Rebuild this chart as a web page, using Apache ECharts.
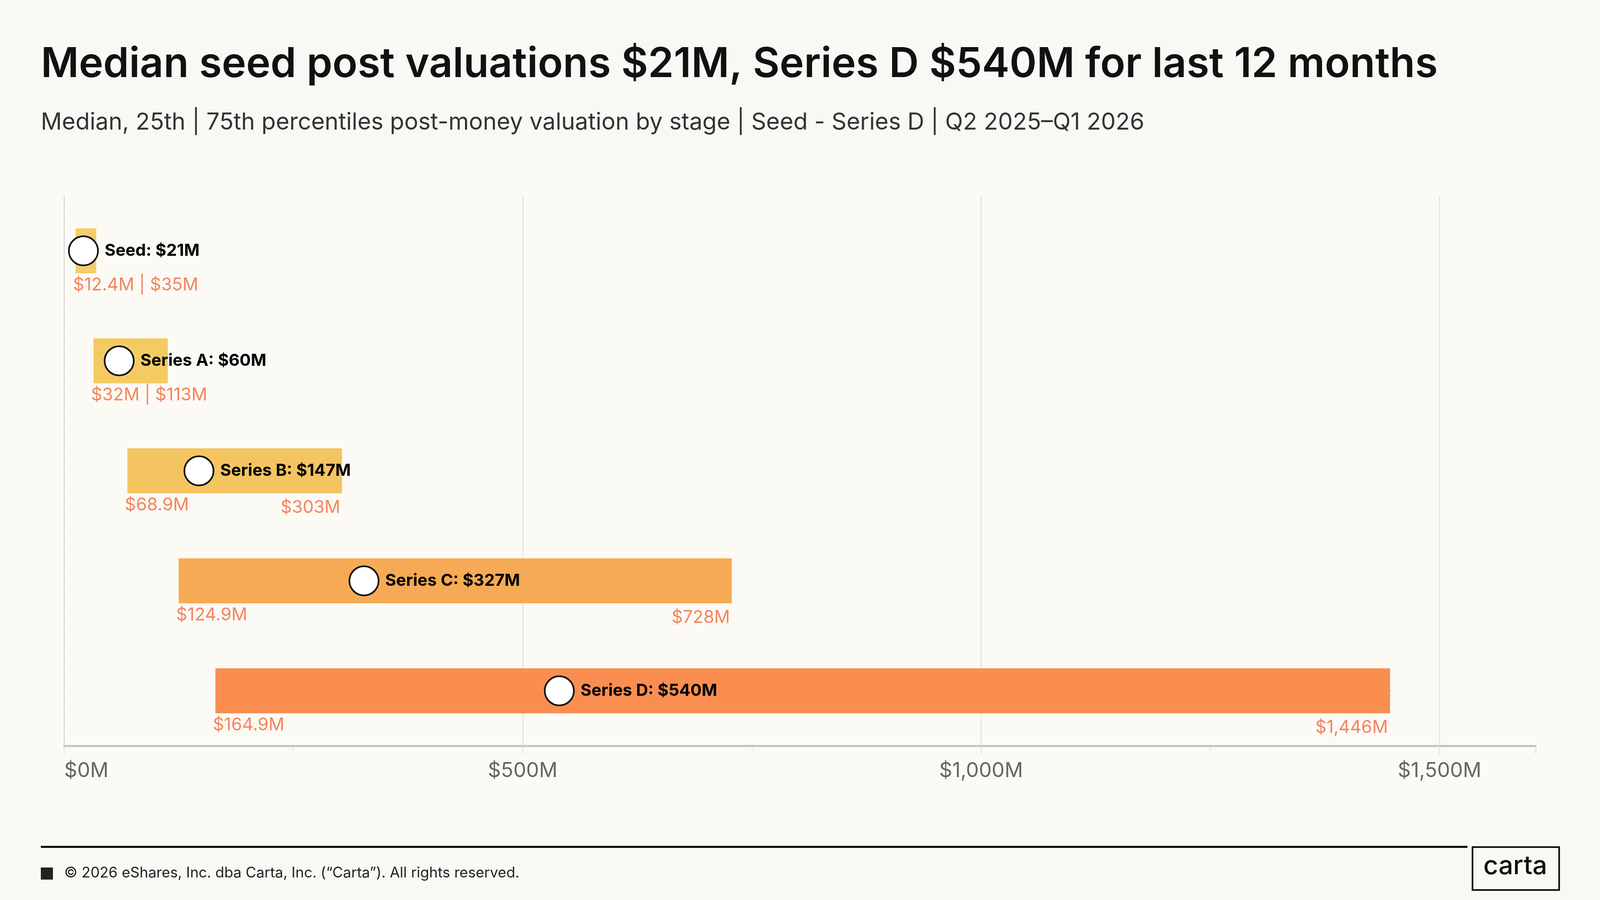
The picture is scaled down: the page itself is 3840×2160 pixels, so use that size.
<!DOCTYPE html>
<html lang="en">
  <head>
    <meta charset="UTF-8" />
    <title>Median post-money valuation by stage</title>
    <script src="https://cdn.jsdelivr.net/npm/echarts@6/dist/echarts.min.js"></script>
    <style>
      html, body { margin: 0; padding: 0; background: #f9f8f4; }
      #main { width: 3840px; height: 2160px; }
    </style>
  </head>
  <body>
    <div id="main"></div>
    <script>
      const stages = ['Seed', 'Series A', 'Series B', 'Series C', 'Series D'];
      const p25 = [12.4, 32, 68.9, 124.9, 164.9];
      const p75 = [35, 113, 303, 728, 1446];
      const median = [21, 60, 147, 327, 540];
      const barColors = ['#f3ce6a', '#f3cb62', '#f4c460', '#f7aa55', '#f98e50'];
      const lowLabels = ['$12.4M | $35M', '$32M | $113M', '$68.9M', '$124.9M', '$164.9M'];
      const highLabels = ['', '', '$303M', '$728M', '$1,446M'];
      const medianLabels = ['Seed: $21M', 'Series A: $60M', 'Series B: $147M', 'Series C: $327M', 'Series D: $540M'];
      const tickLabels = { 0: '$0M', 500: '$500M', 1000: '$1,000M', 1500: '$1,500M' };

      const font = 'Inter, "Noto Sans", sans-serif';
      const salmon = '#f4845f';

      const chart = echarts.init(document.getElementById('main'));

      chart.setOption({
        backgroundColor: '#f9f8f4',
        animation: false,
        textStyle: { fontFamily: font },
        graphic: [
          { type: 'rect', z: -10, shape: { x: 98, y: 436, width: 3625, height: 1536 }, style: { fill: '#fcfaf5' } },
          { type: 'text', left: 98, top: 106, style: { text: 'Median seed post valuations $21M, Series D $540M for last 12 months', font: '600 99px ' + font, fill: '#111' } },
          { type: 'text', left: 98, top: 266, style: { text: 'Median, 25th | 75th percentiles post-money valuation by stage | Seed - Series D | Q2 2025–Q1 2026', font: '400 56px ' + font, fill: '#333' } },
          { type: 'rect', shape: { x: 98, y: 2030, width: 3424, height: 5 }, style: { fill: '#111' } },
          { type: 'rect', shape: { x: 98, y: 2082, width: 29, height: 29 }, style: { fill: '#222' } },
          { type: 'text', left: 154, top: 2078, style: { text: '© 2026 eShares, Inc. dba Carta, Inc. (“Carta”). All rights reserved.', font: '400 35px ' + font, fill: '#222' } },
          { type: 'rect', shape: { x: 3534, y: 2033, width: 208, height: 103 }, style: { fill: 'none', stroke: '#111', lineWidth: 4 } },
          { type: 'text', left: 3560, top: 2048, style: { text: 'carta', font: '500 62px ' + font, fill: '#111' } }
        ],
        grid: { left: 154, right: 154, top: 470, bottom: 370 },
        xAxis: {
          type: 'value',
          min: 0,
          max: 1605,
          interval: 500,
          axisLine: { show: true, lineStyle: { color: '#c4c4c4', width: 5 } },
          axisTick: { show: true, length: 20, lineStyle: { color: '#ddd', width: 2 } },
          minorTick: { show: true, splitNumber: 2, length: 12, lineStyle: { color: '#ddd', width: 2 } },
          splitLine: { show: true, showMaxLine: false, lineStyle: { color: '#dddddd', width: 2 } },
          axisLabel: {
            margin: 36,
            fontSize: 49,
            color: '#666',
            alignMinLabel: 'left',
            formatter: (v) => tickLabels[v] || ''
          }
        },
        yAxis: {
          type: 'category',
          data: stages,
          inverse: true,
          axisLine: { show: true, lineStyle: { color: '#ccc', type: 'dashed', width: 2 } },
          axisTick: { show: false },
          axisLabel: { show: false }
        },
        series: [
          {
            type: 'bar',
            stack: 'range',
            barWidth: 108,
            itemStyle: { color: 'transparent' },
            data: p25
          },
          {
            type: 'bar',
            stack: 'range',
            barWidth: 108,
            data: p75.map((v, i) => ({ value: v - p25[i], itemStyle: { color: barColors[i] } }))
          },
          {
            type: 'scatter',
            symbolSize: 0,
            itemStyle: { opacity: 1 },
            data: p25.map((v, i) => [v, stages[i]]),
            label: {
              show: true,
              position: 'right',
              distance: 0,
              offset: [-6, 82],
              fontSize: 42,
              color: salmon,
              formatter: (p) => lowLabels[p.dataIndex]
            }
          },
          {
            type: 'scatter',
            symbolSize: 0,
            itemStyle: { opacity: 1 },
            data: p75.map((v, i) => [v, stages[i]]),
            label: {
              show: true,
              position: 'left',
              distance: 0,
              offset: [-4, 88],
              fontSize: 42,
              color: salmon,
              formatter: (p) => highLabels[p.dataIndex]
            }
          },
          {
            type: 'scatter',
            symbol: 'circle',
            symbolSize: 70,
            itemStyle: { color: '#ffffff', borderColor: '#111', borderWidth: 4, opacity: 1 },
            data: median.map((v, i) => [v, stages[i]]),
            z: 5,
            label: {
              show: true,
              position: 'right',
              distance: 14,
              fontSize: 40,
              fontWeight: 'bold',
              color: '#000',
              formatter: (p) => medianLabels[p.dataIndex]
            }
          }
        ]
      });

      window.onresize = function () {
        chart.resize();
      };
    </script>
  </body>
</html>
